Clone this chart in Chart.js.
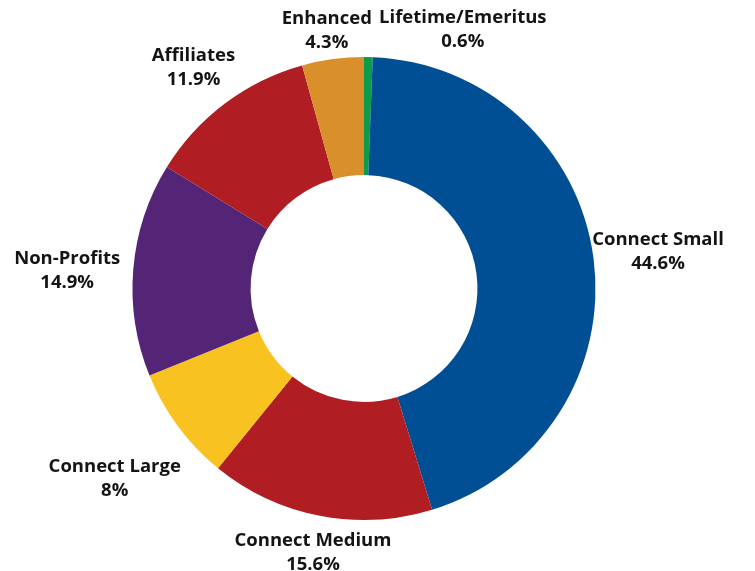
<!DOCTYPE html>
<html>
<head>
<meta charset="utf-8">
<script src="https://cdn.jsdelivr.net/npm/chart.js@4"></script>
<style>
html,body{margin:0;padding:0;background:#fff;}
#wrap{width:755px;height:571px;position:relative;}
</style>
</head>
<body>
<div id="wrap"><canvas id="c"></canvas></div>
<script>
const categories = ["Lifetime/Emeritus","Connect Small","Connect Medium","Connect Large","Non-Profits","Affiliates","Enhanced"];
const values = [0.6, 44.6, 15.6, 8, 14.9, 11.9, 4.3];
const colors = ["#0c9b4b","#004f95","#b01e24","#f8c320","#542576","#b01e24","#d9902b"];
// label placement: [radial offset beyond outer edge, angular shift in degrees]
const labelPlacement = [[47,19.7],[65,0],[36,0],[81,-0.6],[66,-0.9],[49,-0.5],[31,-0.4]];

const labelPlugin = {
  id:'outLabels',
  afterDatasetsDraw(chart){
    const ctx = chart.ctx;
    const meta = chart.getDatasetMeta(0);
    ctx.save();
    ctx.font = 'bold 18.5px "Open Sans", sans-serif';
    ctx.fillStyle = '#141414';
    ctx.textAlign = 'center';
    ctx.textBaseline = 'middle';
    meta.data.forEach((arc,i)=>{
      const p = arc.getProps(['x','y','startAngle','endAngle','outerRadius'],true);
      const mid = (p.startAngle+p.endAngle)/2 + labelPlacement[i][1]*Math.PI/180;
      const r = p.outerRadius + labelPlacement[i][0];
      const x = p.x + Math.cos(mid)*r;
      const y = p.y + Math.sin(mid)*r;
      ctx.fillText(categories[i], x, y-10);
      ctx.fillText(values[i]+'%', x, y+14);
    });
    ctx.restore();
  }
};

new Chart(document.getElementById('c'),{
  type:'doughnut',
  data:{labels:categories,datasets:[{data:values,backgroundColor:colors,borderWidth:0,hoverOffset:0}]},
  options:{
    responsive:true,maintainAspectRatio:false,animation:false,
    cutout:'49%',rotation:0,
    layout:{padding:{top:57,bottom:51,left:100,right:127}},
    plugins:{legend:{display:false},tooltip:{enabled:false}}
  },
  plugins:[labelPlugin]
});
</script>
</body>
</html>
